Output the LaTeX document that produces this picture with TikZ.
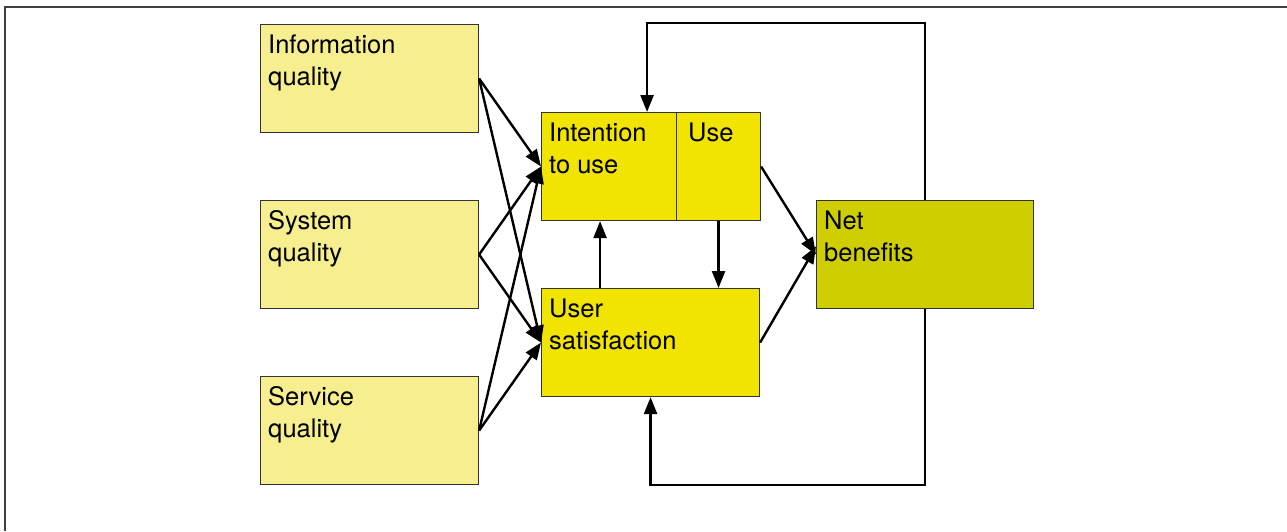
\documentclass[tikz,border=0pt]{standalone}
\usepackage{fontspec}
\setmainfont{TeX Gyre Heros}
\usetikzlibrary{arrows.meta}

\definecolor{lightyel}{HTML}{F7EF8F}
\definecolor{midyel}{HTML}{F0E400}
\definecolor{darkyel}{HTML}{CFCE00}

\tikzset{
    box/.style={rectangle, draw=black!80, line width=1.1pt, anchor=north west,
        inner sep=0pt, minimum width=218pt, minimum height=108pt},
    txt/.style={anchor=north west, align=left, inner sep=0pt, xshift=8pt, yshift=-10.5pt,
        font=\fontsize{25.5}{32}\selectfont},
    arr/.style={line width=2.4pt, -{Triangle[length=17pt,width=13pt]}}
}

\begin{document}
\begin{tikzpicture}[x=1pt, y=-1pt]
    \useasboundingbox (0,0) rectangle (1287,531);
    \draw[black!75, line width=2pt] (5,531) -- (5,7) -- (1287,7);

    \node[box, fill=lightyel, label={[txt]north west:Information\\quality}] (info) at (260,24) {};
    \node[box, fill=lightyel, label={[txt]north west:System\\quality}] (system) at (260,200) {};
    \node[box, fill=lightyel, label={[txt]north west:Service\\quality}] (service) at (260,376) {};

    \node[box, fill=midyel, minimum width=135pt, label={[txt]north west:Intention\\to use}] (intention) at (541,112) {};
    \node[box, fill=midyel, minimum width=84pt, label={[txt, xshift=4pt]north west:Use}] (use) at (676,112) {};
    \node[box, fill=midyel, label={[txt]north west:User\\satisfaction}] (user) at (541,288) {};
    \node[box, fill=darkyel, minimum width=217pt, label={[txt]north west:Net\\benefits}] (net) at (816,200) {};

    \foreach \q in {info, system, service} {
        \draw[arr] (\q.east) -- (intention.west);
        \draw[arr] (\q.east) -- (user.west);
    }

    \draw[arr] ([xshift=-9pt]intention.south |- user.north) -- ([xshift=-9pt]intention.south);
    \draw[arr] (use.south) -- (use.south |- user.north);
    \draw[arr] (use.east) -- (net.west);
    \draw[arr] (user.east) -- ([yshift=8pt]net.west);

    % loops back from net benefits
    \draw[arr] (net.north) -- ++(0,-177) -| ([xshift=38pt]intention.north);
    \draw[arr] (net.south) -- ++(0,176) -| (user.south);
\end{tikzpicture}
\end{document}
